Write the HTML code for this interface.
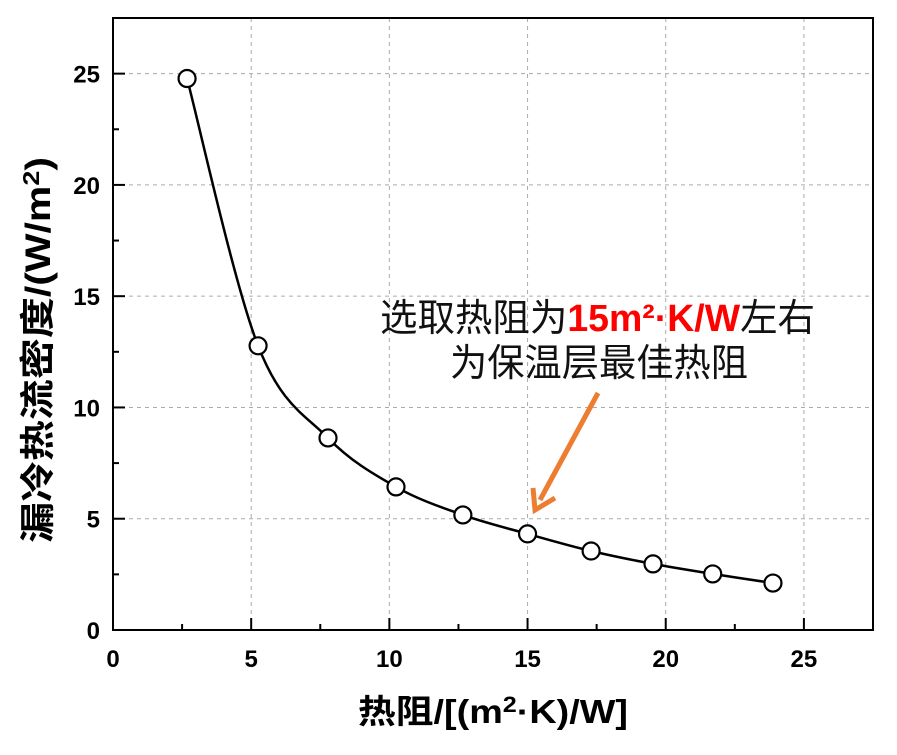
<!DOCTYPE html>
<html><head><meta charset="utf-8"><style>
html,body{margin:0;padding:0;background:#fff;}
svg{display:block;font-family:"Liberation Sans","Noto Sans CJK SC",sans-serif;}
</style></head><body>
<svg id="chart" width="897" height="755" viewBox="0 0 897 755">
<g id="grid"></g>
<g id="axes"></g>
<path id="curve" fill="none" stroke="#000" stroke-width="2.5"/>
<g id="pts"></g>
<text x="380" y="331" font-size="38" fill="#111" textLength="435" lengthAdjust="spacingAndGlyphs">选取热阻为<tspan fill="#ff0000" font-weight="bold">15m²·K/W</tspan>左右</text>
<text x="450" y="376" font-size="38" fill="#111" textLength="298" lengthAdjust="spacingAndGlyphs">为保温层最佳热阻</text>
<g>
<line x1="598" y1="393" x2="540" y2="500" stroke="#ed7d31" stroke-width="5"/>
<polyline points="533,488 535,510 555,498" fill="none" stroke="#ed7d31" stroke-width="5" stroke-linejoin="miter"/>
</g>
<text x="358" y="723" font-size="33" font-weight="bold" textLength="270" lengthAdjust="spacingAndGlyphs">热阻/[(m<tspan font-size="22" dy="-11">2</tspan><tspan dy="11">·K)/W]</tspan></text>
<text transform="translate(50,543) rotate(-90)" font-size="35" font-weight="bold" textLength="386" lengthAdjust="spacingAndGlyphs">漏冷热流密度/(W/m<tspan font-size="23" dy="-11">2</tspan><tspan dy="11">)</tspan></text>
</svg>
<script>
const xVals=[2.68,5.25,7.78,10.24,12.66,15.0,17.3,19.54,21.7,23.88];
const yVals=[24.78,12.77,8.63,6.43,5.17,4.32,3.55,2.97,2.52,2.11];
const xTicks=[0,5,10,15,20,25];
const yTicks=[0,5,10,15,20,25];
const X0=113,X1=873,Y0=630,Y1=18,XMAX=27.5,YMAX=27.5;
const sx=v=>X0+v/XMAX*(X1-X0);
const sy=v=>Y0-v/YMAX*(Y0-Y1);
const NS='http://www.w3.org/2000/svg';
function mk(t,a,p){const e=document.createElementNS(NS,t);for(const k in a)e.setAttribute(k,a[k]);p.appendChild(e);return e;}
const grid=document.getElementById('grid'),axes=document.getElementById('axes'),pts=document.getElementById('pts');
xTicks.forEach(t=>{if(t>0){const l=mk('line',{x1:sx(t),x2:sx(t),y1:Y1,y2:Y0,stroke:'#aaa','stroke-width':1,'stroke-dasharray':'4,4'},grid);

}});
yTicks.forEach(t=>{if(t>0){const l=mk('line',{x1:X0,x2:X1,y1:sy(t),y2:sy(t),stroke:'#aaa','stroke-width':1,'stroke-dasharray':'4,4'},grid);

}});
const fr=mk('rect',{x:X0,y:Y1,width:X1-X0,height:Y0-Y1,fill:'none',stroke:'#000','stroke-width':2},axes);


xTicks.forEach(t=>{
  mk('line',{x1:sx(t),x2:sx(t),y1:Y0,y2:Y0-12,stroke:'#000','stroke-width':2},axes);
  mk('line',{x1:sx(t+2.5),x2:sx(t+2.5),y1:Y0,y2:Y0-6,stroke:'#000','stroke-width':2},axes);
  const tx=mk('text',{x:sx(t),y:667,'font-size':24,'font-weight':'bold','text-anchor':'middle'},axes);tx.textContent=t;
  
  
});
yTicks.forEach(t=>{
  mk('line',{x1:X0,x2:X0+12,y1:sy(t),y2:sy(t),stroke:'#000','stroke-width':2},axes);
  mk('line',{x1:X0,x2:X0+6,y1:sy(t+2.5),y2:sy(t+2.5),stroke:'#000','stroke-width':2},axes);
  const tx=mk('text',{x:100,y:sy(t)+9,'font-size':24,'font-weight':'bold','text-anchor':'end'},axes);tx.textContent=t;
  
  
});
const P=xVals.map((x,i)=>[sx(x),sy(yVals[i])]);
let d='M'+P[0][0]+','+P[0][1];
for(let i=0;i<P.length-1;i++){
  const p0=P[Math.max(0,i-1)],p1=P[i],p2=P[i+1],p3=P[Math.min(P.length-1,i+2)];
  const c1=[p1[0]+(p2[0]-p0[0])/6,p1[1]+(p2[1]-p0[1])/6],c2=[p2[0]-(p3[0]-p1[0])/6,p2[1]-(p3[1]-p1[1])/6];
  d+=' C'+c1+' '+c2+' '+p2;
}
document.getElementById('curve').setAttribute('d',d);
P.forEach(p=>{const c=mk('circle',{cx:p[0],cy:p[1],r:8.5,fill:'#fff',stroke:'#000','stroke-width':2.2},pts);

});
</script>
</body></html>
